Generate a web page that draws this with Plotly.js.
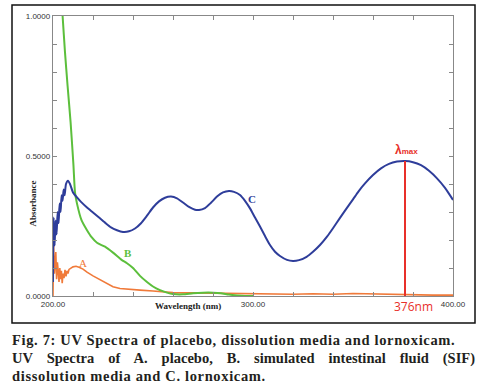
<!DOCTYPE html>
<html>
<head>
<meta charset="utf-8">
<script src="https://cdn.plot.ly/plotly-3.0.1.min.js"></script>
<style>
html,body{margin:0;padding:0;background:#fff;}
#chart{width:489px;height:388px;position:absolute;left:0;top:0;}
#cap{position:absolute;left:12px;top:331px;width:463px;font-family:"Liberation Serif",serif;font-weight:bold;font-size:14.5px;letter-spacing:0.65px;line-height:18px;color:#231f20;text-align:left;white-space:nowrap;}
#cap .j{display:inline-block;width:463px;text-align:justify;text-align-last:justify;letter-spacing:0;}
</style>
</head>
<body>
<div id="chart"></div>
<div id="cap">Fig. 7: UV Spectra of placebo, dissolution media and lornoxicam.<br><span class="j">UV Spectra of A. placebo, B. simulated intestinal fluid (SIF)</span><br>dissolution media and C. lornoxicam.</div>
<script>
// Curve C: lornoxicam
const cWl = [200,200.3,200.8,201.3,201.8,202.3,202.8,203.3,203.8,204.3,204.8,205.3,205.8,206.5,207.5,208.5,210,212,214,217,220,223,226,229,232,235,238,241,244,247,250,253,256,259,262,265,268,271,273,276,279,282,285,288,290.5,293.5,296,298.5,301,303.5,306,308.5,311,313.5,317,320,323,326.8,330,333.5,337,340,343.5,346.8,350,352.7,356,360,364,368,372,376,380,384,388,392,396,400];
const cAbs = [0.05,0.28,0.18,0.27,0.22,0.30,0.26,0.33,0.30,0.36,0.34,0.38,0.36,0.40,0.412,0.40,0.37,0.352,0.336,0.316,0.298,0.28,0.262,0.245,0.235,0.229,0.231,0.241,0.26,0.287,0.316,0.338,0.351,0.355,0.349,0.334,0.318,0.308,0.307,0.314,0.333,0.355,0.37,0.375,0.372,0.361,0.34,0.313,0.28,0.248,0.214,0.182,0.158,0.143,0.129,0.125,0.128,0.14,0.158,0.182,0.212,0.242,0.279,0.313,0.345,0.373,0.402,0.432,0.456,0.472,0.48,0.482,0.478,0.467,0.447,0.42,0.386,0.343];
// Curve A: placebo
const aWl = [200,200.3,200.7,201,201.4,201.8,202.2,202.6,203,203.4,203.8,204.2,204.6,205,205.5,206,206.5,207,207.5,208,209,210,211.5,213,215,217,220,223,227,230,233.5,237,240,243.5,250,260,270,280,290,300,310,320,330,340,350,360,370,380,390,400];
const aAbs = [0.0,0.18,0.08,0.13,0.157,0.06,0.12,0.09,0.05,0.1,0.06,0.09,0.046,0.08,0.064,0.093,0.07,0.09,0.08,0.095,0.1,0.104,0.106,0.103,0.096,0.085,0.072,0.06,0.043,0.033,0.027,0.024,0.022,0.021,0.018,0.012,0.011,0.01,0.009,0.008,0.007,0.006,0.008,0.006,0.009,0.007,0.005,0.004,0.003,0.003];
// Curve B: simulated intestinal fluid
const bWl = [203.8,204.8,206,207.3,208.8,210.2,211,212,214.3,217,219.3,222,226,230,234.3,237,240,243.5,247,250,253.5,257,260,265,270,275,280,284,288,292,296,300];
const bAbs = [1.1,1.0,0.87,0.75,0.62,0.47,0.37,0.33,0.27,0.235,0.21,0.19,0.176,0.155,0.129,0.117,0.1,0.072,0.05,0.034,0.021,0.012,0.007,0.006,0.01,0.012,0.012,0.01,0.005,0.002,0.0,0.0];
// lambda max marker
const lamWl = [376,376];
const lamAbs = [0,0.482];
const xTicks = [200,220,240,260,280,300,320,340,360,380,400];
const xTickText = ['200.00','','','','','300.00','','','','','400.00'];
const yTicks = [0,0.1,0.2,0.3,0.4,0.5,0.6,0.7,0.8,0.9,1.0];
const yTickText = ['0.0000','','','','','0.5000','','','','','1.0000'];

const traces = [
  {x:aWl,y:aAbs,mode:'lines',line:{color:'#f07a3a',width:1.6},hoverinfo:'skip'},
  {x:bWl,y:bAbs,mode:'lines',line:{color:'#5cbf3c',width:2,shape:'spline',smoothing:0.6},hoverinfo:'skip'},
  {x:cWl,y:cAbs,mode:'lines',line:{color:'#2e3d9a',width:2,shape:'spline',smoothing:0.6},hoverinfo:'skip'},
  {x:lamWl,y:lamAbs,mode:'lines',line:{color:'#e8302a',width:2},hoverinfo:'skip'}
];
const axFont = {family:'Liberation Sans, Arial, sans-serif',size:8,color:'#333'};
const layout = {
  width:489,height:388,
  margin:{l:53,r:36,t:16,b:92,pad:0},
  paper_bgcolor:'#fff',plot_bgcolor:'#fff',
  showlegend:false,
  xaxis:{range:[200,400],tickvals:xTicks,ticktext:xTickText,showline:true,mirror:'allticks',linecolor:'#888',linewidth:1.2,ticks:'inside',ticklen:4,tickcolor:'#888',showgrid:false,zeroline:false,tickfont:axFont,fixedrange:true},
  yaxis:{range:[0,1],tickvals:yTicks,ticktext:yTickText,showline:true,mirror:'allticks',linecolor:'#888',linewidth:1.2,ticks:'inside',ticklen:4,tickcolor:'#888',showgrid:false,zeroline:false,tickfont:axFont,fixedrange:true},
  shapes:[{type:'rect',xref:'paper',yref:'paper',x0:-0.1025,x1:1.055,y0:-0.0964,y1:1.039,line:{color:'#111',width:1.5},fillcolor:'rgba(0,0,0,0)'}],
  annotations:[
    {x:215,y:0.118,xref:'x',yref:'y',xanchor:'center',yanchor:'middle',text:'A',showarrow:false,font:{family:'Liberation Serif, serif',size:11,color:'#f07a3a'}},
    {x:237.5,y:0.153,xref:'x',yref:'y',xanchor:'center',yanchor:'middle',text:'<b>B</b>',showarrow:false,font:{family:'Liberation Serif, serif',size:11,color:'#5cbf3c'}},
    {x:299.5,y:0.346,xref:'x',yref:'y',xanchor:'center',yanchor:'middle',text:'<b>C</b>',showarrow:false,font:{family:'Liberation Serif, serif',size:11,color:'#2e3d9a'}},
    {x:376.5,y:0.52,xref:'x',yref:'y',xanchor:'center',yanchor:'middle',text:'<b>λ</b><b style="font-size:8px">max</b>',showarrow:false,font:{family:'Liberation Sans, Arial, sans-serif',size:12,color:'#e8302a'}},
    {x:0.9,y:-0.036,xref:'paper',yref:'paper',xanchor:'center',yanchor:'middle',text:'376nm',showarrow:false,font:{family:'Open Sans, sans-serif',size:12,color:'#e8302a'}},
    {x:-0.05,y:0.33,xref:'paper',yref:'paper',xanchor:'center',yanchor:'middle',text:'<b>Absorbance</b>',textangle:-90,showarrow:false,font:{family:'Liberation Serif, serif',size:9,color:'#222'}},
    {x:0.3375,y:-0.036,xref:'paper',yref:'paper',xanchor:'center',yanchor:'middle',text:'<b>Wavelength (nm)</b>',showarrow:false,font:{family:'Liberation Serif, serif',size:9,color:'#222'}}
  ]
};
Plotly.newPlot('chart',traces,layout,{staticPlot:true,displayModeBar:false});
</script>
</body>
</html>
